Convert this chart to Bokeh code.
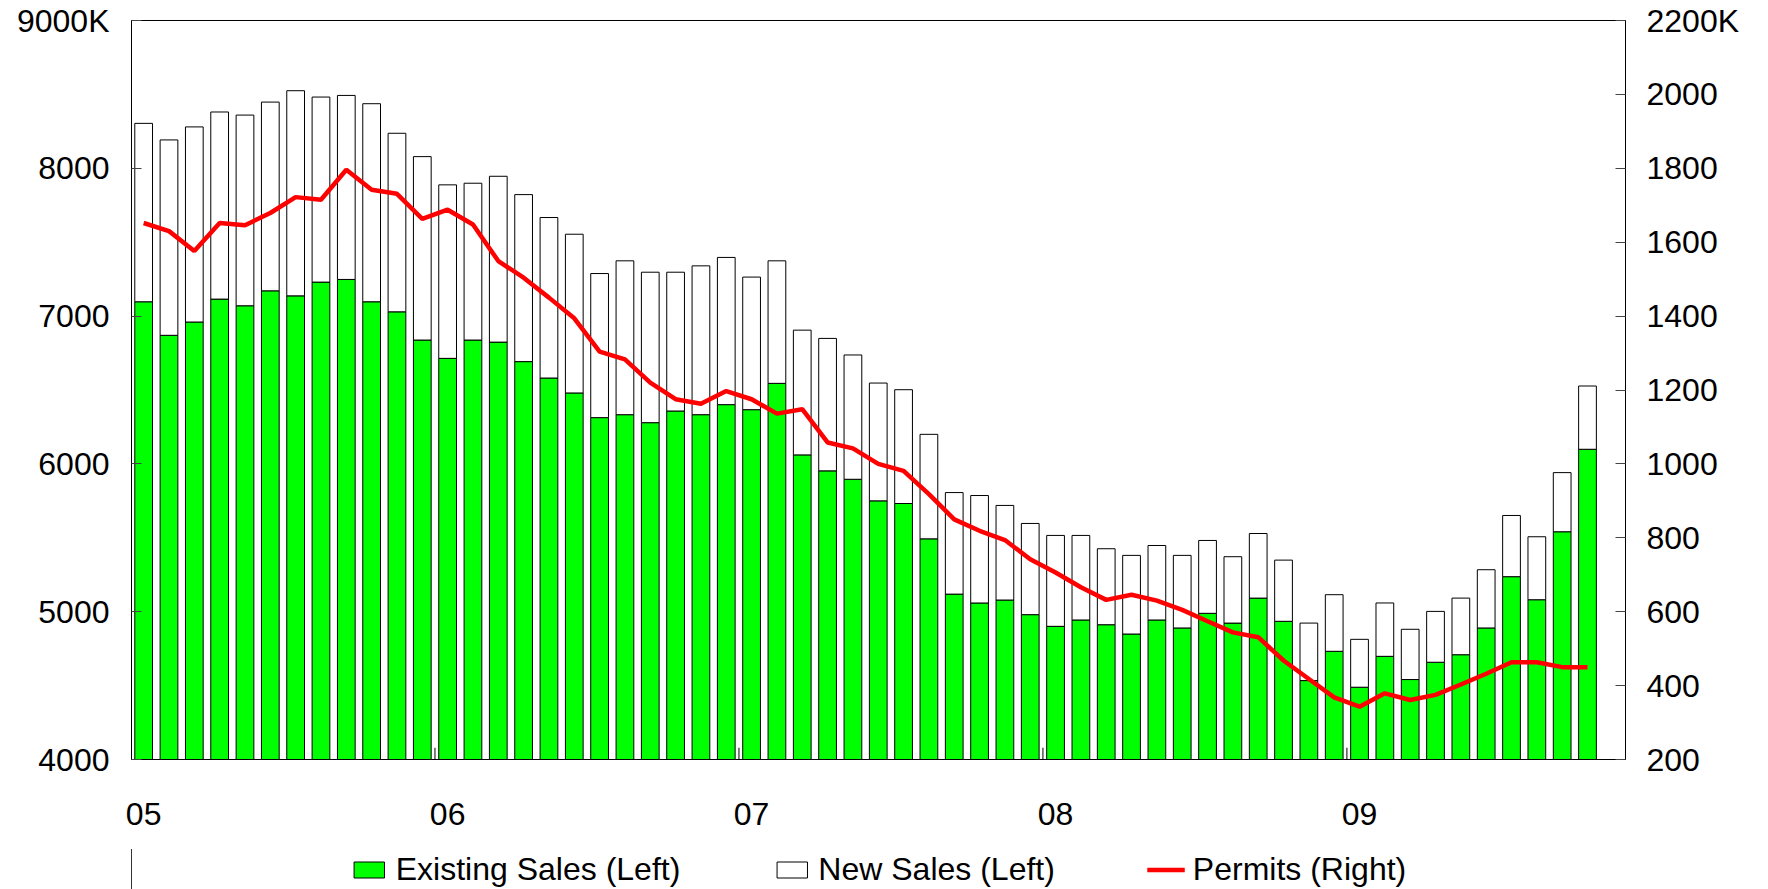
from bokeh.plotting import figure
from bokeh.models import Range1d, LinearAxis, FixedTicker, Legend, LegendItem, ColumnDataSource
from bokeh.layouts import column
from bokeh.embed import file_html
from bokeh.resources import INLINE

# Monthly data, Jan 2005 .. Oct 2009 (thousands, annualised)
month_index = list(range(58))
existing_sales = [7097, 6870, 6960, 7115, 7070, 7171, 7137, 7230, 7248, 7097, 7029, 6838,
                  6714, 6838, 6824, 6692, 6581, 6480, 6313, 6333, 6279, 6358, 6333, 6401,
                  6367, 6545, 6061, 5953, 5896, 5750, 5732, 5493, 5119, 5059, 5079, 4980,
                  4901, 4944, 4912, 4849, 4944, 4890, 4989, 4923, 5092, 4935, 4534, 4732,
                  4489, 4698, 4541, 4658, 4709, 4890, 5237, 5081, 5541, 6099]
new_sales = [1207, 1322, 1320, 1266, 1290, 1277, 1388, 1252, 1245, 1340, 1208, 1241,
             1174, 1061, 1122, 1130, 1086, 1074, 975, 1041, 1018, 939, 1007, 996,
             897, 829, 844, 896, 841, 797, 770, 707, 687, 727, 640, 617,
             615, 572, 514, 532, 504, 491, 493, 449, 437, 414, 389, 383,
             324, 361, 340, 344, 383, 394, 414, 426, 400, 428]
permits = [1652, 1630, 1576, 1652, 1646, 1679, 1722, 1715, 1796, 1742, 1731, 1663,
           1688, 1648, 1549, 1504, 1450, 1394, 1304, 1283, 1220, 1175, 1163, 1197,
           1175, 1136, 1148, 1058, 1042, 1000, 981, 918, 850, 819, 794, 742,
           706, 666, 632, 646, 630, 605, 574, 544, 531, 468, 418, 368,
           343, 379, 361, 375, 403, 432, 463, 463, 450, 450]
year_labels = ["05", "06", "07", "08", "09"]
year_start_index = [0, 12, 24, 36, 48]
left_ticks = [4000, 5000, 6000, 7000, 8000, 9000]
right_ticks = [200, 400, 600, 800, 1000, 1200, 1400, 1600, 1800, 2000, 2200]
series_names = ["Existing Sales (Left)", "New Sales (Left)", "Permits (Right)"]

FONT = "Liberation Sans"
FS = "32px"
GREEN = "#00FF00"
RED = "#FF0000"

src = ColumnDataSource(dict(x=month_index, existing=existing_sales, new=new_sales, permits=permits))

p = figure(width=1759, height=849, output_backend="svg", toolbar_location=None,
           x_range=Range1d(-0.48, 58.5), y_range=Range1d(left_ticks[0], left_ticks[-1]),
           min_border_left=131, min_border_right=134, min_border_top=20, min_border_bottom=90)
p.background_fill_color = "white"
p.border_fill_color = "white"
p.outline_line_color = "black"
p.outline_line_width = 1
p.xgrid.visible = False
p.ygrid.visible = False

p.extra_y_ranges = {"right": Range1d(right_ticks[0], right_ticks[-1])}

bars = p.vbar_stack(["existing", "new"], x="x", width=0.7, source=src,
                    fill_color=[GREEN, "#FFFFFF"], line_color="black", line_width=1)
line = p.line("x", "permits", source=src, y_range_name="right", line_color=RED, line_width=4.5)

# year boundary tick marks (inside the plot, at the bottom)
boundaries = [i - 0.5 for i in year_start_index[1:]]
p.segment(x0=boundaries, x1=boundaries, y0=[left_ticks[0]] * len(boundaries),
          y1=[left_ticks[0] + 80] * len(boundaries), line_color="#555555", line_width=1.5)

def style(ax):
    ax.axis_line_color = "black"
    ax.axis_line_width = 1
    ax.major_tick_line_color = "#444444"
    ax.major_tick_in = 10
    ax.major_tick_out = 0
    ax.minor_tick_line_color = None
    ax.major_label_text_font = FONT
    ax.major_label_text_font_size = FS
    ax.major_label_text_color = "black"

yl = p.yaxis[0]
yl.ticker = FixedTicker(ticks=left_ticks)
yl.major_label_overrides = {9000: "9000K"}
style(yl)
yl.major_label_standoff = 22

yr = LinearAxis(y_range_name="right", ticker=FixedTicker(ticks=right_ticks))
style(yr)
yr.major_label_overrides = {2200: "2200K"}
yr.major_label_standoff = 21
p.add_layout(yr, "right")

xa = p.xaxis[0]
xa.ticker = FixedTicker(ticks=year_start_index)
xa.major_label_overrides = dict(zip(year_start_index, year_labels))
style(xa)
xa.major_tick_line_color = None
xa.major_label_standoff = 43

# legend strip below the chart (same series, drawn out of this strip's view;
# only the legend keys are visible)
lg = figure(width=1759, height=40, output_backend="svg", toolbar_location=None,
            x_range=Range1d(1000, 1001), y_range=Range1d(0, 1),
            x_axis_location=None, y_axis_location=None, min_border=0)
lg.outline_line_color = None
lg.xgrid.visible = False
lg.ygrid.visible = False
lg.background_fill_color = "white"
lg.border_fill_color = "white"
k1 = lg.vbar(x="x", top="existing", width=0.7, source=src,
             fill_color=GREEN, line_color="black", line_width=1)
k2 = lg.vbar(x="x", top="new", width=0.7, source=src,
             fill_color="#FFFFFF", line_color="black", line_width=1)
k3 = lg.line(x="x", y="permits", source=src, line_color=RED, line_width=4.5)

legend = Legend(items=[
    LegendItem(label=series_names[0], renderers=[k1]),
    LegendItem(label=series_names[1], renderers=[k2]),
    LegendItem(label=series_names[2], renderers=[k3]),
], orientation="horizontal", location="center", border_line_color=None,
   background_fill_alpha=0, glyph_width=38, glyph_height=20, label_standoff=8,
   spacing=92, label_text_font=FONT, label_text_font_size=FS, label_text_color="black",
   padding=0, margin=0)
lg.add_layout(legend, "center")

layout = column(p, lg, spacing=0)
open("out.html", "w").write(file_html(layout, INLINE))
